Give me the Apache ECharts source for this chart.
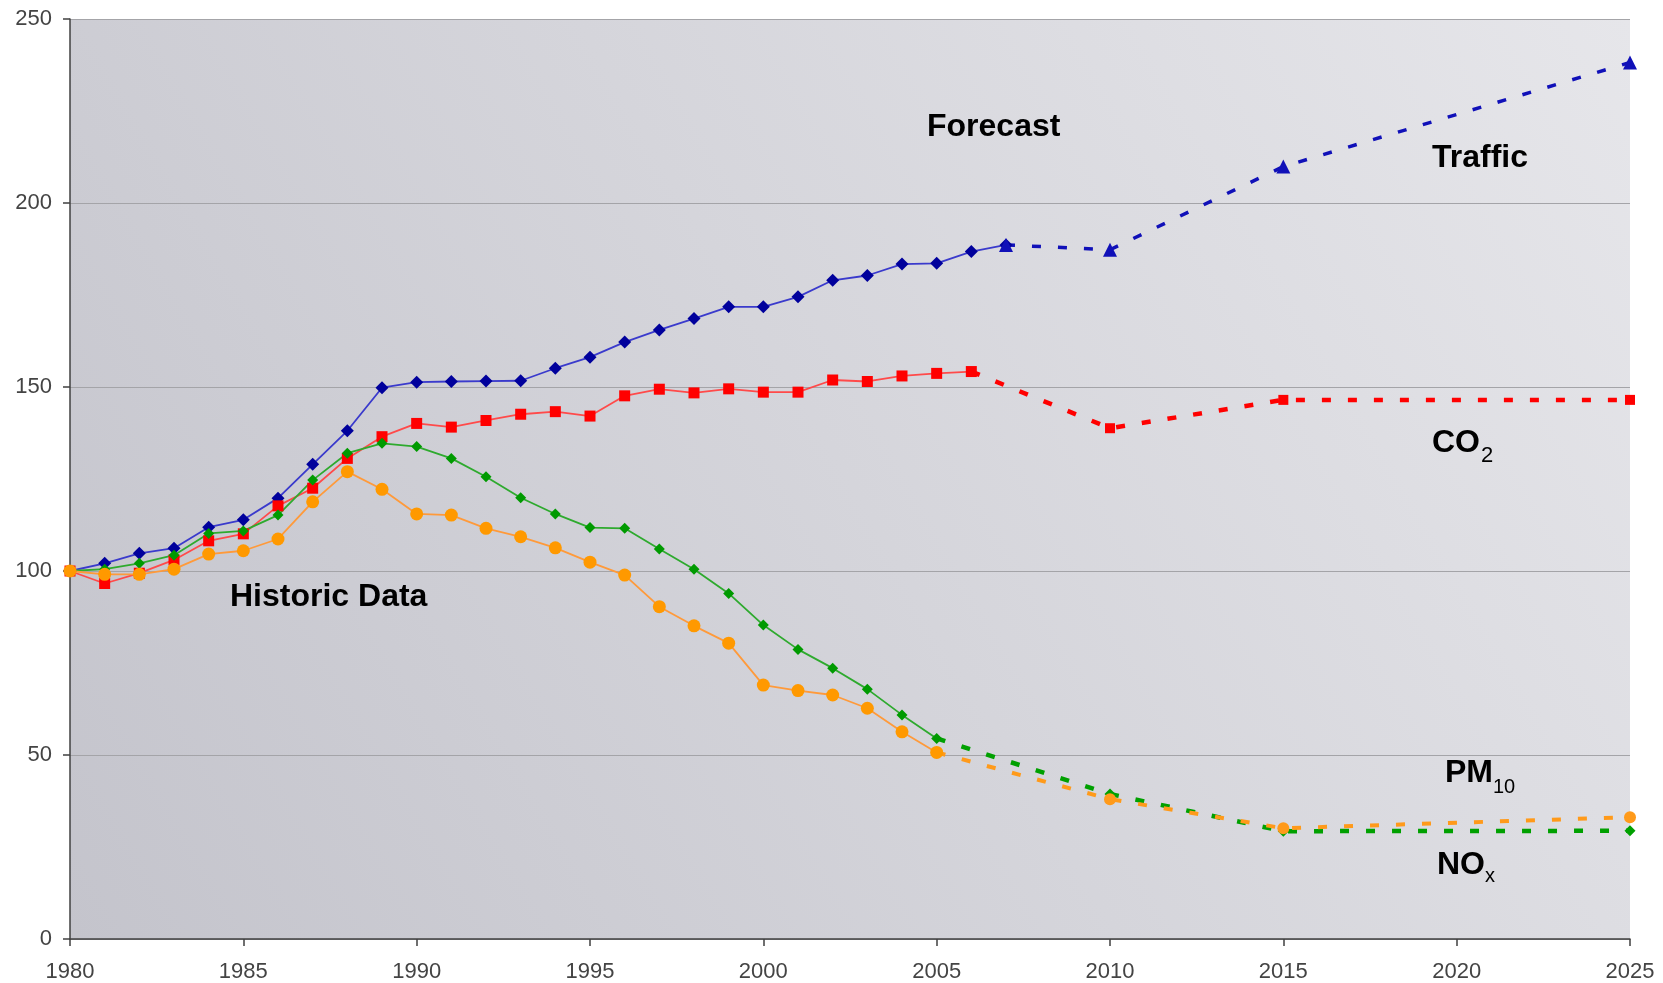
<!DOCTYPE html>
<html lang="en">
<head>
  <meta charset="UTF-8">
  <title>Traffic and emissions</title>
  <script src="https://cdn.jsdelivr.net/npm/echarts@6/dist/echarts.min.js"></script>
  <style>
    html, body { margin: 0; padding: 0; background: #fff; }
  </style>
</head>
<body>
<div id="main" style="width: 1663px;height:983px;"></div>
<script>
  // years with measured data
  var histYears = [1980, 1981, 1982, 1983, 1984, 1985, 1986, 1987, 1988, 1989,
    1990, 1991, 1992, 1993, 1994, 1995, 1996, 1997, 1998, 1999,
    2000, 2001, 2002, 2003, 2004, 2005, 2006, 2007];

  // historic index values (1980 = 100)
  var trafficHist = [100, 102.1, 104.8, 106.2, 111.9, 113.9, 119.8, 129.0, 138.1, 149.8,
    151.3, 151.5, 151.6, 151.7, 155.1, 158.1, 162.2, 165.5, 168.6, 171.8,
    171.8, 174.5, 179.0, 180.3, 183.4, 183.6, 186.8, 188.6];
  var co2Hist = [100, 96.6, 99.4, 103.0, 108.2, 110.1, 117.7, 122.5, 130.6, 136.5,
    140.1, 139.1, 140.9, 142.6, 143.3, 142.1, 147.6, 149.4, 148.4, 149.5,
    148.6, 148.6, 151.9, 151.5, 153.0, 153.7, 154.2];
  var noxHist = [100, 100.5, 102.1, 104.3, 110.2, 110.9, 115.2, 124.7, 132.0, 134.7,
    133.8, 130.6, 125.6, 119.9, 115.5, 111.8, 111.6, 106.0, 100.5, 93.9,
    85.3, 78.7, 73.6, 67.9, 60.9, 54.5];
  var pm10Hist = [100, 99.1, 99.1, 100.5, 104.6, 105.5, 108.7, 118.8, 127.0, 122.2,
    115.5, 115.2, 111.6, 109.3, 106.3, 102.4, 98.9, 90.3, 85.1, 80.4,
    69.0, 67.5, 66.3, 62.7, 56.3, 50.7];

  // forecast points [year, value]
  var trafficFc = [[2007, 188.6], [2010, 187.3], [2015, 209.9], [2025, 238.2]];
  var co2Fc = [[2006, 154.2], [2010, 138.8], [2015, 146.5], [2025, 146.5]];
  var noxFc = [[2005, 54.5], [2010, 39.4], [2015, 29.3], [2025, 29.4]];
  var pm10Fc = [[2005, 50.7], [2010, 38.0], [2015, 30.1], [2025, 33.1]];

  var xTicks = [1980, 1985, 1990, 1995, 2000, 2005, 2010, 2015, 2020, 2025];
  var yTicks = [0, 50, 100, 150, 200, 250];

  var FONT = '"Liberation Sans", Arial, sans-serif';

  function pairs(vals) {
    return vals.map(function (v, i) { return [histYears[i], v]; });
  }

  function hist(name, vals, lineColor, markColor, symbol, size) {
    return {
      name: name,
      type: 'line',
      data: pairs(vals),
      symbol: symbol,
      symbolSize: size,
      showSymbol: true,
      itemStyle: { color: markColor, borderWidth: 0 },
      lineStyle: { color: lineColor, width: 1.8 },
      emphasis: { disabled: true },
      z: 3
    };
  }

  function fc(name, pts, color, symbol, size, width, keepFirst) {
    return {
      name: name + ' forecast',
      type: 'line',
      data: pts.map(function (p, i) {
        return (i === 0 && !keepFirst) ? { value: p, symbol: 'none' } : p;
      }),
      symbol: symbol,
      symbolSize: size,
      showSymbol: true,
      itemStyle: { color: color, borderWidth: 0 },
      lineStyle: { color: color, width: width, type: [9, 17] },
      emphasis: { disabled: true },
      z: 3
    };
  }

  // free text on the plot: left x, baseline y
  var notes = [
    { text: 'Forecast', x: 927, base: 137, size: 32, weight: 'bold' },
    { text: 'Historic Data', x: 230, base: 607, size: 32, weight: 'bold' },
    { text: 'Traffic', x: 1432, base: 168, size: 32, weight: 'bold' },
    { text: 'CO', x: 1432, base: 453, size: 32, weight: 'bold' },
    { text: '2', x: 1481, base: 463, size: 22, weight: 'normal' },
    { text: 'PM', x: 1445, base: 783, size: 32, weight: 'bold' },
    { text: '10', x: 1493, base: 793, size: 20, weight: 'normal' },
    { text: 'NO', x: 1437, base: 875, size: 32, weight: 'bold' },
    { text: 'x', x: 1485, base: 882, size: 20, weight: 'normal' }
  ];

  var myChart = echarts.init(document.getElementById('main'), null, { renderer: 'canvas' });

  var option = {
    animation: false,
    backgroundColor: '#ffffff',
    grid: {
      left: 70, right: 33, top: 19, bottom: 44,
      containLabel: false,
      outerBoundsMode: 'none',
      show: true,
      borderWidth: 0,
      backgroundColor: new echarts.graphic.LinearGradient(0, 1, 1, 0, [
        { offset: 0, color: '#c4c4cc' },
        { offset: 1, color: '#e6e6ea' }
      ])
    },
    xAxis: {
      type: 'value',
      min: xTicks[0],
      max: xTicks[xTicks.length - 1],
      interval: 5,
      axisLine: { show: true, onZero: false, lineStyle: { color: '#404040', width: 1.5 } },
      axisTick: { show: true, length: 7, lineStyle: { color: '#404040', width: 1.5 } },
      axisLabel: {
        color: '#444', fontSize: 22, fontFamily: FONT, margin: 22,
        formatter: function (v) { return String(v); }
      },
      splitLine: { show: false }
    },
    yAxis: {
      type: 'value',
      min: yTicks[0],
      max: yTicks[yTicks.length - 1],
      interval: 50,
      axisLine: { show: true, lineStyle: { color: '#404040', width: 1.5 } },
      axisTick: { show: true, length: 7, lineStyle: { color: '#404040', width: 1.5 } },
      axisLabel: { color: '#444', fontSize: 22, fontFamily: FONT, margin: 18 },
      splitLine: { show: true, lineStyle: { color: '#a4a4a8', width: 1 } }
    },
    series: [
      hist('Traffic', trafficHist, '#3a3acc', '#00009c', 'diamond', 13),
      hist('CO2', co2Hist, '#ff4a4a', '#ff0000', 'rect', 11),
      hist('NOx', noxHist, '#2eaa2e', '#009a00', 'diamond', 11),
      hist('PM10', pm10Hist, '#ff9a3a', '#ff9900', 'circle', 13),
      fc('Traffic', trafficFc, '#1010b8', 'triangle', 14, 3.5, true),
      fc('CO2', co2Fc, '#ff0000', 'rect', 10, 4.5, false),
      fc('NOx', noxFc, '#00a000', 'diamond', 11, 4.5, false),
      fc('PM10', pm10Fc, '#ff9a1a', 'circle', 12, 4, false)
    ],
    graphic: notes.map(function (n) {
      return {
        type: 'text',
        z: 10,
        style: {
          x: n.x,
          y: n.base - n.size * 0.3,
          text: n.text,
          fill: '#000',
          font: n.weight + ' ' + n.size + 'px ' + FONT,
          align: 'left',
          verticalAlign: 'middle'
        }
      };
    })
  };

  myChart.setOption(option);
</script>
</body>
</html>
